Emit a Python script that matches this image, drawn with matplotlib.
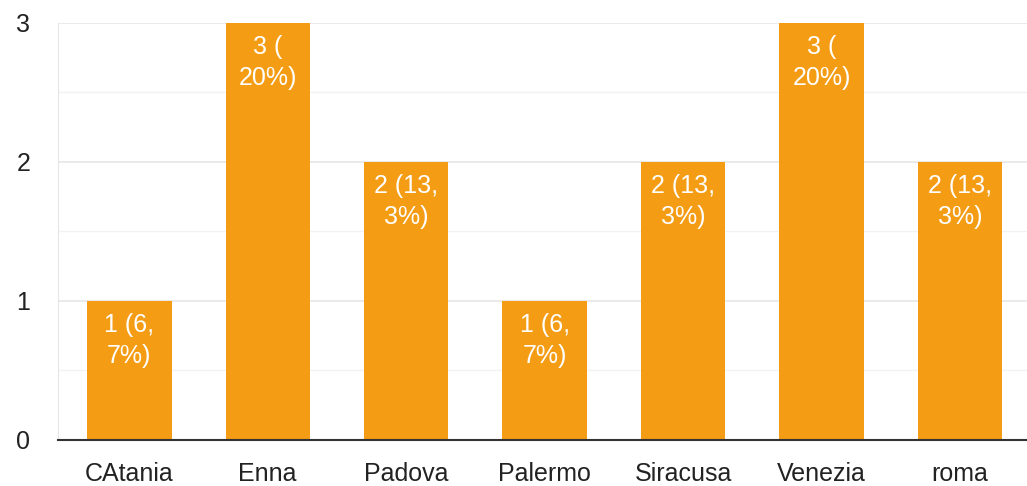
import matplotlib
matplotlib.use('Agg')
import matplotlib.pyplot as plt

plt.rcParams['font.family'] = ['Liberation Sans', 'DejaVu Sans']

# ── Data ──────────────────────────────────────────────────────────────────────
cities = ["CAtania", "Enna", "Padova", "Palermo", "Siracusa", "Venezia", "roma"]
counts = [1, 3, 2, 1, 2, 3, 2]
bar_labels = ["1 (6,\n7%)", "3 (\n20%)", "2 (13,\n3%)", "1 (6,\n7%)",
              "2 (13,\n3%)", "3 (\n20%)", "2 (13,\n3%)"]

BAR_COLOUR = "#F49C14"
GRID_COLOUR = "#E6E6E6"

fig = plt.figure(figsize=(10.27, 4.86), dpi=100)
ax = fig.add_axes([0.0565, 0.0947, 0.9435, 0.858])

x = list(range(len(cities)))
bars = ax.bar(x, counts, width=0.61, color=BAR_COLOUR, zorder=3)

for rect, lab in zip(bars, bar_labels):
    ax.annotate(lab, (rect.get_x() + rect.get_width() / 2, rect.get_height()),
                xytext=(0, -9), textcoords='offset points',
                ha='center', va='top', color='white', fontsize=18,
                linespacing=1.35, zorder=4)

ax.set_xlim(-0.515, 6.485)
ax.set_ylim(0, 3)
ax.set_yticks([0, 1, 2, 3])
ax.set_yticks([0.5, 1.5, 2.5], minor=True)
ax.set_xticks(x)
ax.set_xticklabels(cities)

ax.grid(axis='y', which='major', color=GRID_COLOUR, linewidth=1.2, zorder=0)
ax.grid(axis='y', which='minor', color='#F2F2F2', linewidth=1.0, zorder=0)
ax.tick_params(axis='both', which='both', length=0, labelsize=18, colors='#222222')
ax.tick_params(axis='y', pad=20)
ax.tick_params(axis='x', pad=16)

for side in ('top', 'right'):
    ax.spines[side].set_visible(False)
ax.spines['left'].set_color(GRID_COLOUR)
ax.spines['bottom'].set_color('#333333')
ax.spines['bottom'].set_linewidth(1.5)
ax.spines['bottom'].set_zorder(5)

fig.savefig('out.png', dpi=100, facecolor='white')
